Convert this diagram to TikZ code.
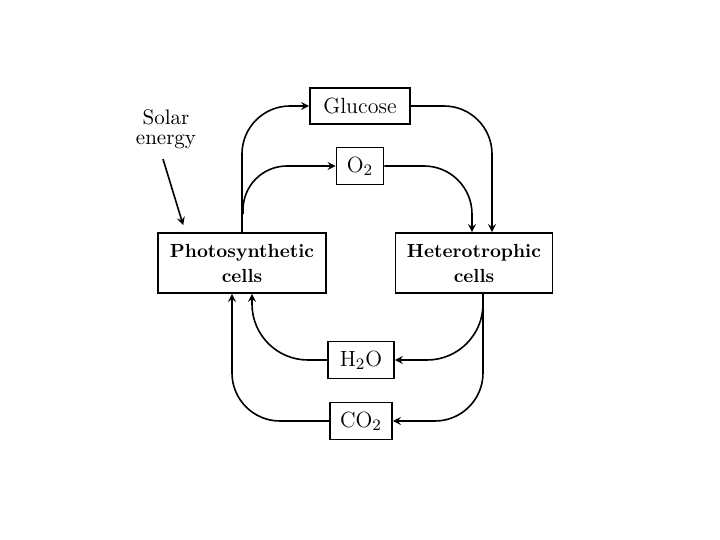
\documentclass[tikz,border=0pt]{standalone}
\usetikzlibrary{calc}
\begin{document}
\begin{tikzpicture}[x=0.5pt,y=-0.5pt,line width=0.8pt,>=stealth,
		box/.style={draw,inner sep=0pt,font=\fontsize{11}{13}\selectfont},
		cellbox/.style={box,align=center,minimum width=84pt,minimum height=30pt,font=\fontsize{9.5}{12.5}\selectfont\bfseries},
		flow/.style={->,rounded corners=24pt}]
		\useasboundingbox (0,0) rectangle (720,540);

		\node[cellbox] (photo) at (242,263) {Photosynthetic\\cells};
		\node[cellbox,minimum width=78.5pt] (hetero) at (474,263) {Heterotrophic\\cells};

		\node[box,minimum width=50pt,minimum height=18pt] (glucose) at (360,106) {Glucose};
		\node[box,minimum width=23.5pt,minimum height=18.5pt] (oxy) at (360,166) {O$_2$};
		\node[box,minimum width=33pt,minimum height=18.5pt] (water) at (361,360) {H$_2$O};
		\node[box,minimum width=31pt,minimum height=18.5pt] (carbon) at (361,421) {CO$_2$};

		\node[align=center,font=\fontsize{10.5}{10}\selectfont] (solar) at (166,129) {Solar\\energy};
		\coordinate (sun) at ($(photo.north west)+(26,-7)$);
		\draw[->] ($(solar.south)+(-3,3)$) -- (sun);

		% from the photosynthetic cells
		\coordinate (fork) at ($(photo.north)+(1,-18)$);
		\draw[flow] (photo.north) |- (glucose.west);
		\draw[flow,rounded corners=22pt] (fork) |- (oxy.west);

		% into the heterotrophic cells
		\draw[flow] (glucose.east) -| ($(hetero.north)+(18,0)$);
		\draw[flow] (oxy.east) -| ($(hetero.north)+(-2,0)$);

		% back again
		\coordinate (out) at ($(hetero.south)+(9,0)$);
		\coordinate (split) at ($(out)+(0,8)$);
		\draw (out) -- (split);
		\draw[flow,rounded corners=28pt] (split) |- (water.east);
		\draw[flow] (split) |- (carbon.east);
		\draw[flow,rounded corners=28pt] (water.west) -| ($(photo.south)+(10,0)$);
		\draw[flow] (carbon.west) -| ($(photo.south)+(-10,0)$);
	\end{tikzpicture}
\end{document}
